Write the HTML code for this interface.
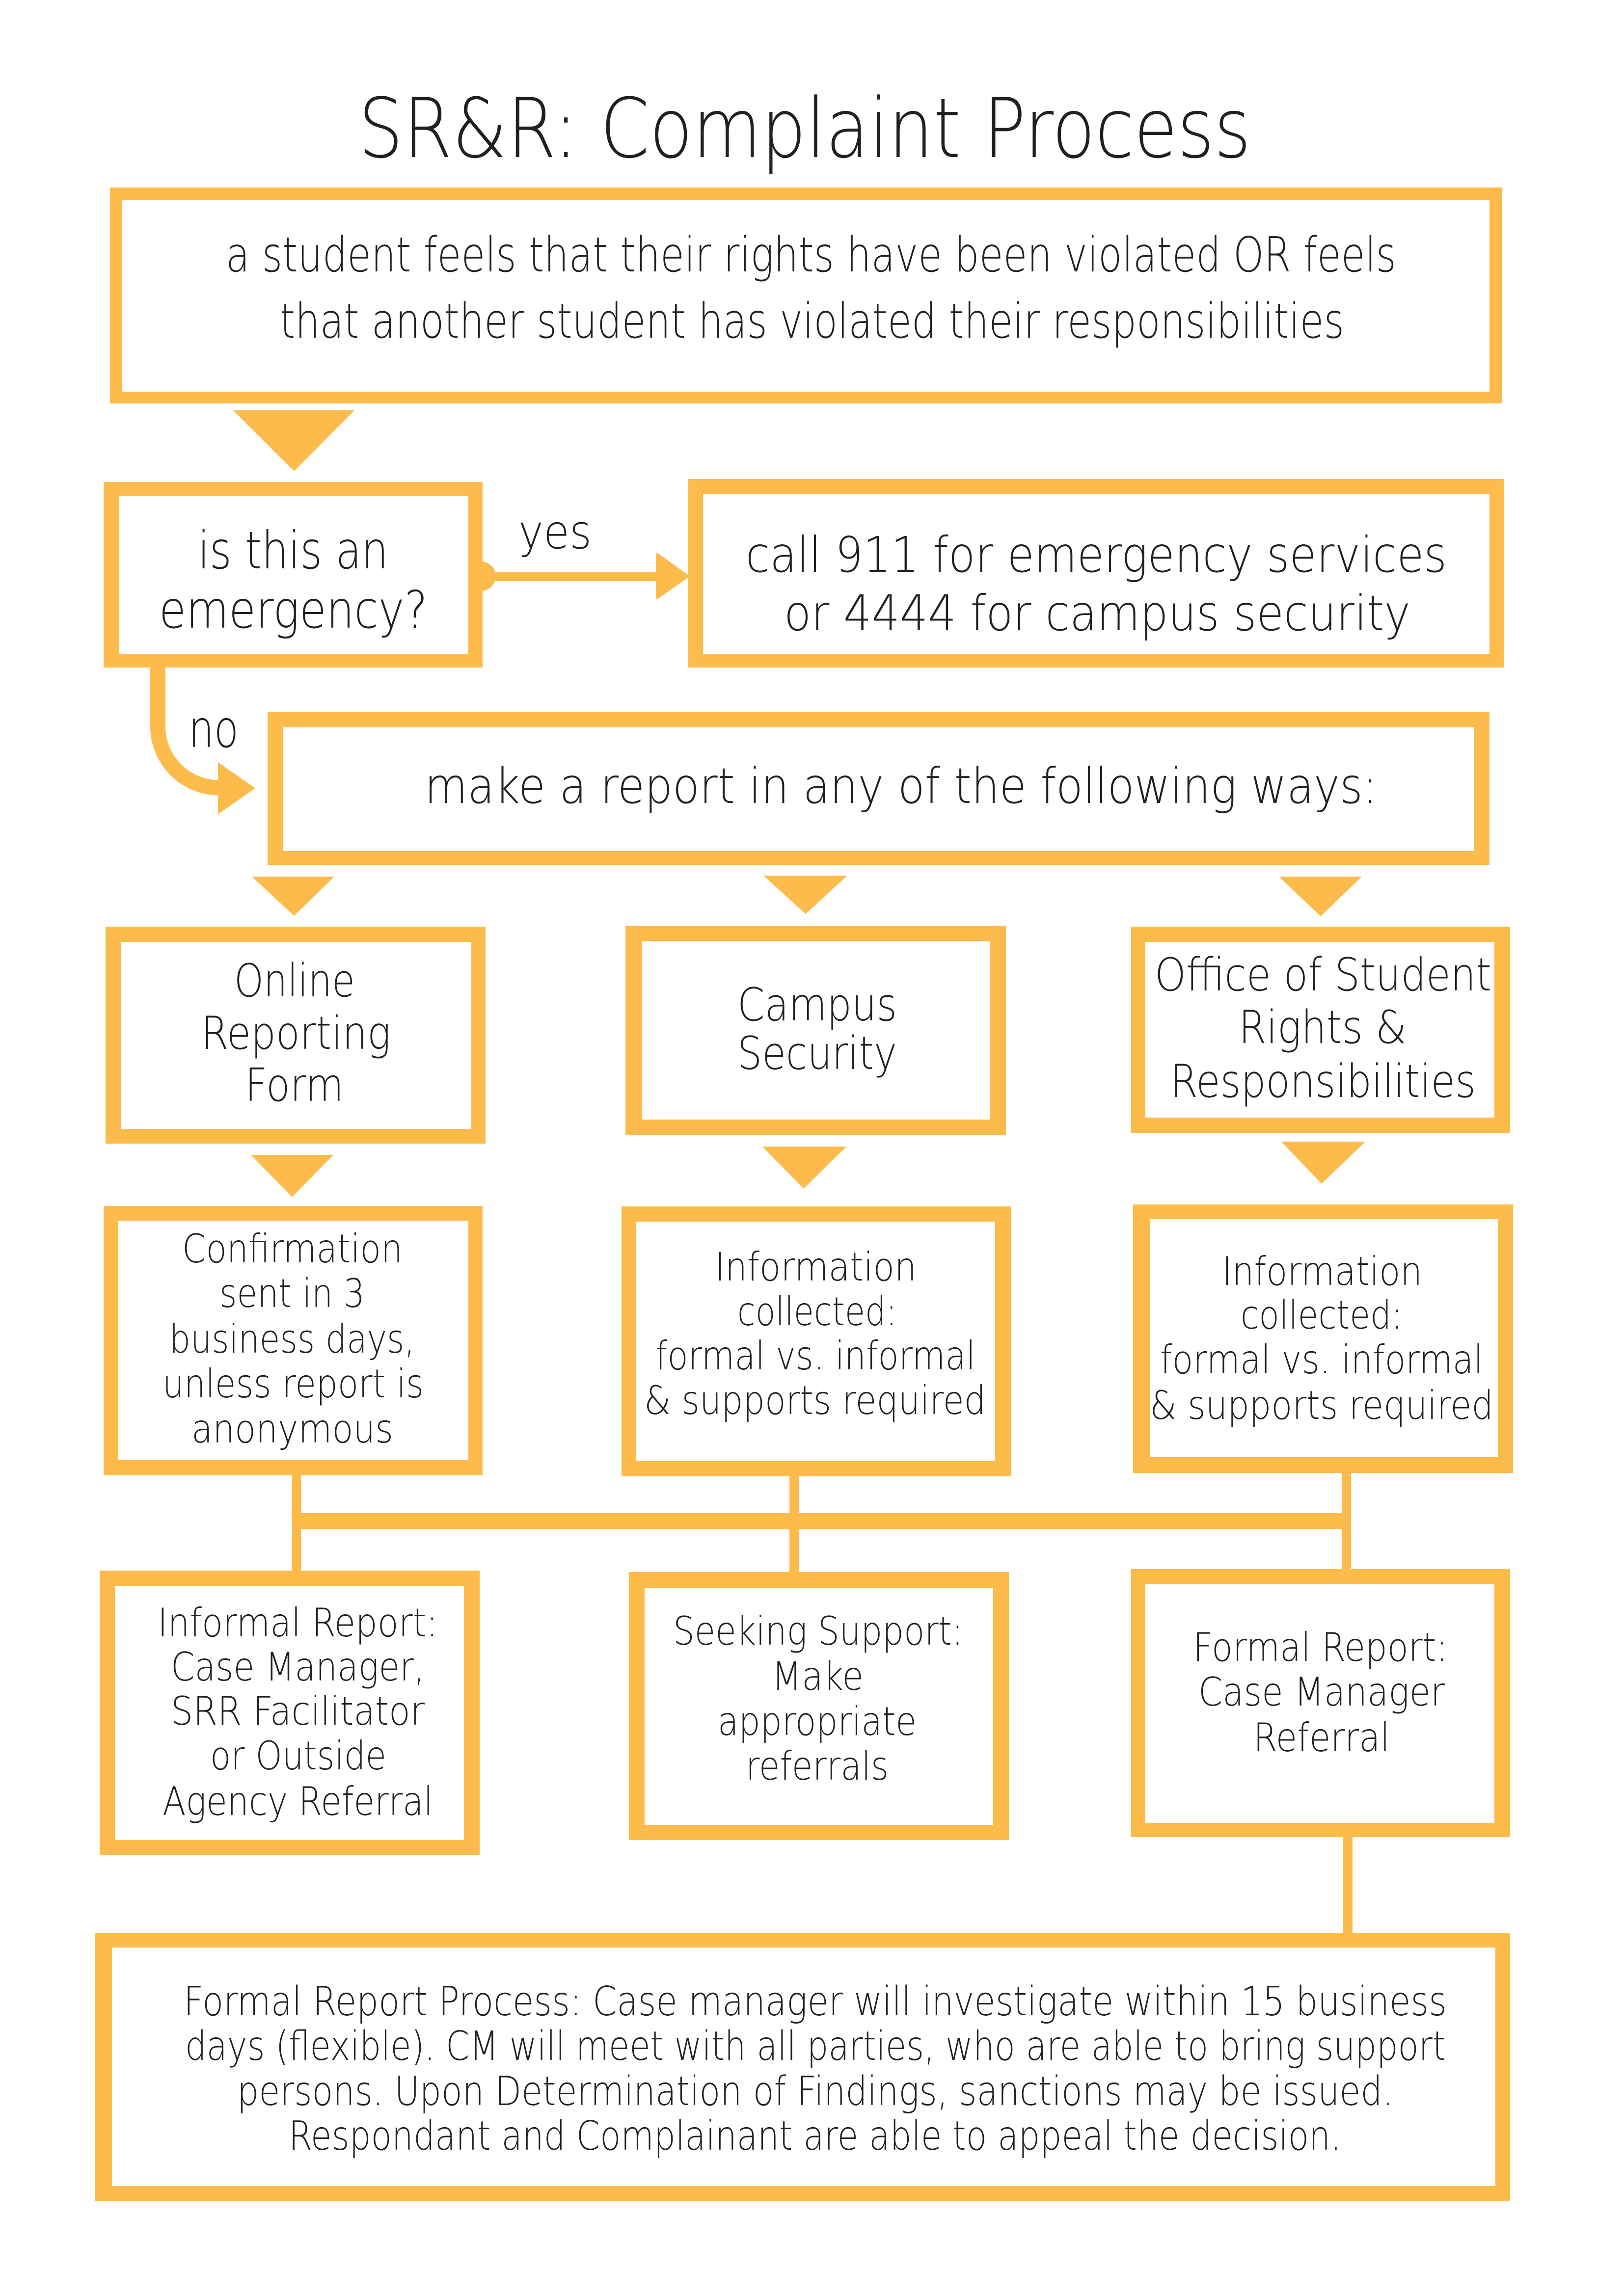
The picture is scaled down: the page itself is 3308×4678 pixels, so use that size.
<!DOCTYPE html>
<html>
<head>
<meta charset="utf-8">
<style>
html,body{margin:0;padding:0;background:#fff;}
body{width:3308px;height:4678px;overflow:hidden;}
svg{display:block;}
text{font-family:"DejaVu Sans","Liberation Sans",sans-serif;font-weight:200;fill:#231f20;}
</style>
</head>
<body>
<svg width="3308" height="4678" viewBox="0 0 3308 4678" xmlns="http://www.w3.org/2000/svg">
<rect x="0" y="0" width="3308" height="4678" fill="#fff"/>
<g fill="#FDBB4C">
  <!-- boxes: outer orange -->
  <rect x="224" y="382" width="2835" height="440"/>
  <rect x="211" y="982" width="772" height="378"/>
  <rect x="1402" y="976" width="1661" height="384"/>
  <rect x="545" y="1450" width="2489" height="312"/>
  <rect x="215" y="1888" width="774" height="442"/>
  <rect x="1274" y="1886" width="775" height="426"/>
  <rect x="2304" y="1888" width="772" height="420"/>
  <rect x="211" y="2457" width="772" height="549"/>
  <rect x="1266" y="2458" width="793" height="550"/>
  <rect x="2308" y="2454" width="774" height="547"/>
  <rect x="203" y="3200" width="774" height="580"/>
  <rect x="1281" y="3203" width="774" height="546"/>
  <rect x="2304" y="3197" width="772" height="546"/>
  <rect x="194" y="3938" width="2882" height="547"/>
  <!-- connectors -->
  <rect x="595" y="3000" width="18" height="205"/>
  <rect x="1608" y="3000" width="20" height="208"/>
  <rect x="2734" y="2995" width="18" height="207"/>
  <rect x="595" y="3083" width="2157" height="32"/>
  <rect x="2736" y="3738" width="19" height="205"/>
  <!-- triangles -->
  <polygon points="475,836 722,836 599,960"/>
  <polygon points="513,1786 681,1786 599,1866"/>
  <polygon points="1555,1784 1726,1784 1641,1862"/>
  <polygon points="2605,1786 2774,1786 2690,1867"/>
  <polygon points="511,2353 679,2353 595,2439"/>
  <polygon points="1553,2336 1724,2336 1637,2422"/>
  <polygon points="2610,2326 2781,2326 2692,2412"/>
  <!-- yes connector -->
  <rect x="980" y="1165" width="362" height="19"/>
  <circle cx="980" cy="1174" r="30"/>
  <polygon points="1339,1130 1400,1174 1339,1217" stroke="#FDBB4C" stroke-width="6" stroke-linejoin="round"/>
  <!-- no arrowhead -->
  <polygon points="444,1553 520,1606 444,1659"/>
</g>
<path d="M321.5 1350 V1480 A125 125 0 0 0 446.5 1605 H452" fill="none" stroke="#FDBB4C" stroke-width="31"/>
<g fill="#fff">
  <rect x="249" y="408" width="2785" height="390"/>
  <rect x="243" y="1010" width="711" height="322"/>
  <rect x="1432" y="1006" width="1602" height="326"/>
  <rect x="577" y="1482" width="2425" height="252"/>
  <rect x="247" y="1919" width="713" height="381"/>
  <rect x="1308" y="1917" width="709" height="364"/>
  <rect x="2333" y="1919" width="711" height="358"/>
  <rect x="241" y="2487" width="713" height="488"/>
  <rect x="1295" y="2489" width="732" height="488"/>
  <rect x="2342" y="2484" width="709" height="485"/>
  <rect x="234" y="3231" width="711" height="518"/>
  <rect x="1313" y="3235" width="710" height="483"/>
  <rect x="2333" y="3228" width="711" height="486"/>
  <rect x="228" y="3968" width="2818" height="486"/>
</g>

<!-- title -->
<text x="730" y="320" font-size="168" textLength="1818" lengthAdjust="spacingAndGlyphs">SR&amp;R: Complaint Process</text>

<!-- box 1 -->
<text x="460" y="553" font-size="98" textLength="2384" lengthAdjust="spacingAndGlyphs">a student feels that their rights have been violated OR feels</text>
<text x="570" y="688" font-size="98" textLength="2168" lengthAdjust="spacingAndGlyphs">that another student has violated their responsibilities</text>

<!-- emergency -->
<text x="403" y="1158" font-size="105" textLength="388" lengthAdjust="spacingAndGlyphs">is this an</text>
<text x="324" y="1279" font-size="105" textLength="547" lengthAdjust="spacingAndGlyphs">emergency?</text>
<text x="1056" y="1117" font-size="95" textLength="149" lengthAdjust="spacingAndGlyphs">yes</text>
<text x="384" y="1522" font-size="105" textLength="102" lengthAdjust="spacingAndGlyphs">no</text>

<!-- call -->
<text x="1519" y="1165" font-size="100" textLength="1428" lengthAdjust="spacingAndGlyphs">call 911 for emergency services</text>
<text x="1597" y="1284" font-size="100" textLength="1276" lengthAdjust="spacingAndGlyphs">or 4444 for campus security</text>

<!-- make report -->
<text x="865" y="1636" font-size="100" textLength="1941" lengthAdjust="spacingAndGlyphs">make a report in any of the following ways:</text>

<!-- row 2 -->
<text x="477" y="2030" font-size="93" textLength="246" lengthAdjust="spacingAndGlyphs">Online</text>
<text x="410" y="2137" font-size="93" textLength="386" lengthAdjust="spacingAndGlyphs">Reporting</text>
<text x="499" y="2243" font-size="93" textLength="201" lengthAdjust="spacingAndGlyphs">Form</text>

<text x="1502" y="2079" font-size="93" textLength="325" lengthAdjust="spacingAndGlyphs">Campus</text>
<text x="1502" y="2178" font-size="93" textLength="325" lengthAdjust="spacingAndGlyphs">Security</text>

<text x="2352" y="2018" font-size="93" textLength="686" lengthAdjust="spacingAndGlyphs">Office of Student</text>
<text x="2523" y="2125" font-size="93" textLength="342" lengthAdjust="spacingAndGlyphs">Rights &amp;</text>
<text x="2384" y="2235" font-size="93" textLength="622" lengthAdjust="spacingAndGlyphs">Responsibilities</text>

<!-- row 3 -->
<text x="371" y="2572" font-size="80" textLength="449" lengthAdjust="spacingAndGlyphs">Confirmation</text>
<text x="447" y="2663" font-size="80" textLength="296" lengthAdjust="spacingAndGlyphs">sent in 3</text>
<text x="345" y="2756" font-size="80" textLength="500" lengthAdjust="spacingAndGlyphs">business days,</text>
<text x="331" y="2847" font-size="80" textLength="532" lengthAdjust="spacingAndGlyphs">unless report is</text>
<text x="390" y="2939" font-size="80" textLength="411" lengthAdjust="spacingAndGlyphs">anonymous</text>

<text x="1456" y="2609" font-size="80" textLength="411" lengthAdjust="spacingAndGlyphs">Information</text>
<text x="1502" y="2700" font-size="80" textLength="325" lengthAdjust="spacingAndGlyphs">collected:</text>
<text x="1335" y="2790" font-size="80" textLength="652" lengthAdjust="spacingAndGlyphs">formal vs. informal</text>
<text x="1312" y="2881" font-size="80" textLength="696" lengthAdjust="spacingAndGlyphs">&amp; supports required</text>

<text x="2489" y="2618" font-size="80" textLength="408" lengthAdjust="spacingAndGlyphs">Information</text>
<text x="2527" y="2707" font-size="80" textLength="330" lengthAdjust="spacingAndGlyphs">collected:</text>
<text x="2363" y="2798" font-size="80" textLength="658" lengthAdjust="spacingAndGlyphs">formal vs. informal</text>
<text x="2342" y="2891" font-size="80" textLength="700" lengthAdjust="spacingAndGlyphs">&amp; supports required</text>

<!-- row 4 -->
<text x="321" y="3334" font-size="80" textLength="571" lengthAdjust="spacingAndGlyphs">Informal Report:</text>
<text x="348" y="3424" font-size="80" textLength="517" lengthAdjust="spacingAndGlyphs">Case Manager,</text>
<text x="348" y="3514" font-size="80" textLength="517" lengthAdjust="spacingAndGlyphs">SRR Facilitator</text>
<text x="428" y="3605" font-size="80" textLength="359" lengthAdjust="spacingAndGlyphs">or Outside</text>
<text x="331" y="3698" font-size="80" textLength="551" lengthAdjust="spacingAndGlyphs">Agency Referral</text>

<text x="1371" y="3351" font-size="80" textLength="591" lengthAdjust="spacingAndGlyphs">Seeking Support:</text>
<text x="1572" y="3443" font-size="80" textLength="187" lengthAdjust="spacingAndGlyphs">Make</text>
<text x="1462" y="3535" font-size="80" textLength="405" lengthAdjust="spacingAndGlyphs">appropriate</text>
<text x="1519" y="3626" font-size="80" textLength="291" lengthAdjust="spacingAndGlyphs">referrals</text>

<text x="2430" y="3384" font-size="80" textLength="519" lengthAdjust="spacingAndGlyphs">Formal Report:</text>
<text x="2441" y="3475" font-size="80" textLength="502" lengthAdjust="spacingAndGlyphs">Case Manager</text>
<text x="2553" y="3568" font-size="80" textLength="278" lengthAdjust="spacingAndGlyphs">Referral</text>

<!-- final -->
<text x="374" y="4106" font-size="82" textLength="2573" lengthAdjust="spacingAndGlyphs">Formal Report Process: Case manager will investigate within 15 business</text>
<text x="377" y="4197" font-size="82" textLength="2568" lengthAdjust="spacingAndGlyphs">days (flexible). CM will meet with all parties, who are able to bring support</text>
<text x="483" y="4289" font-size="82" textLength="2355" lengthAdjust="spacingAndGlyphs">persons. Upon Determination of Findings, sanctions may be issued.</text>
<text x="588" y="4380" font-size="82" textLength="2144" lengthAdjust="spacingAndGlyphs">Respondant and Complainant are able to appeal the decision.</text>
</svg>
</body>
</html>
